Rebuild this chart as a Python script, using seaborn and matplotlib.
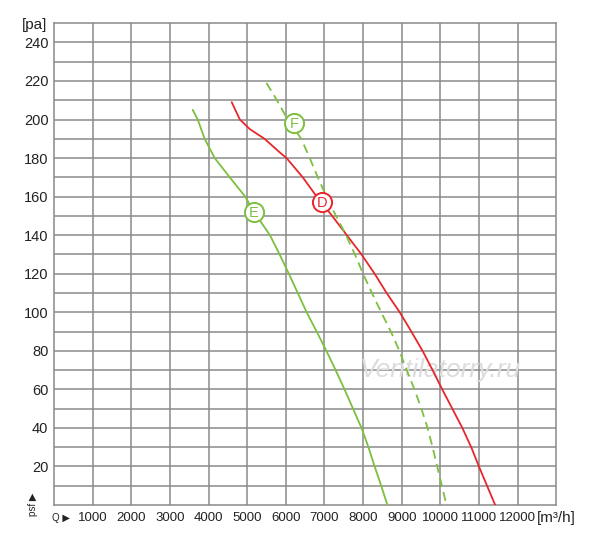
import matplotlib
matplotlib.use("Agg")
import matplotlib.pyplot as plt
import seaborn as sns
import pandas as pd

# ================= DATA =================
e_q = [3590, 3720, 3900, 4160, 4550, 4950, 5180, 5590, 5840, 6080, 6310, 6540, 6800,
       7050, 7290, 7520, 7740, 7960, 8140, 8300, 8470, 8630]
e_p = [205, 200, 190, 180, 170, 160, 152, 140, 130, 120, 110, 100, 90,
       80, 70, 60, 50, 40, 30, 20, 10, 0]

d_q = [4600, 4810, 5070, 5450, 5840, 6020, 6440, 6800, 7200, 7580, 7960, 8300, 8610,
       8950, 9250, 9540, 9800, 10050, 10310, 10570, 10800, 11000, 11210, 11420]
d_p = [209, 200, 195, 190, 183, 180, 170, 160, 150, 140, 130, 120, 110,
       100, 90, 80, 70, 60, 50, 40, 30, 20, 10, 0]

f_q = [5500, 5770, 6050, 6400, 6620, 6830, 7050, 7300, 7560, 7790, 8000, 8230, 8470,
       8720, 8940, 9130, 9330, 9510, 9670, 9800, 9920, 10040, 10160]
f_p = [219, 210, 200, 190, 180, 170, 160, 150, 140, 130, 120, 110, 100,
       90, 80, 70, 60, 50, 40, 30, 20, 10, 0]

x_ticks = list(range(1000, 13000, 1000))
y_ticks = list(range(20, 250, 20))

labels = ["E", "F", "D"]
label_q = [5180, 6210, 6930]
label_p = [152, 198, 157]

green = "#7dbf3f"
red = "#e8262b"
grid_col = "#8a8a8a"

# ================= STYLE =================
sns.set_style("white")
plt.rcParams["font.family"] = ["Liberation Sans", "DejaVu Sans"]

fig = plt.figure(figsize=(6, 5.38), dpi=100)
ax = fig.add_axes([0.09, 0.0613, 0.837, 0.8957])

df_e = pd.DataFrame({"q": e_q, "p": e_p})
df_d = pd.DataFrame({"q": d_q, "p": d_p})
df_f = pd.DataFrame({"q": f_q, "p": f_p})

sns.lineplot(data=df_e, x="q", y="p", ax=ax, color=green, lw=1.3, sort=False, zorder=3)
sns.lineplot(data=df_d, x="q", y="p", ax=ax, color=red, lw=1.3, sort=False, zorder=3)
sns.lineplot(data=df_f, x="q", y="p", ax=ax, color=green, lw=1.3, sort=False,
             linestyle=(0, (5, 3)), zorder=3)

for lab, q, p in zip(labels, label_q, label_p):
    col = red if lab == "D" else green
    ax.scatter([q], [p], s=190, facecolor="white", edgecolor=col, linewidth=1.4, zorder=4)
    ax.text(q, p - 0.5, lab, color=col, fontsize=10.5, ha="center", va="center", zorder=5)

# ================= AXES =================
ax.set_xlim(0, 13000)
ax.set_ylim(0, 250)
ax.set_xticks(x_ticks)
ax.set_xticklabels([str(v) for v in x_ticks], fontsize=9.5, color="#222222")
ax.set_yticks(y_ticks)
ax.set_yticklabels([str(v) for v in y_ticks], fontsize=10.5, color="#222222")
ax.set_yticks(range(10, 250, 10), minor=True)
ax.tick_params(axis="both", which="both", length=0)
ax.tick_params(axis="x", pad=5)
ax.tick_params(axis="y", pad=4)

ax.grid(True, which="major", color=grid_col, lw=1.1)
ax.grid(True, which="minor", axis="y", color=grid_col, lw=1.1)
ax.set_axisbelow(True)
for s in ax.spines.values():
    s.set_color(grid_col)
    s.set_linewidth(1.1)

ax.set_xlabel("")
ax.set_ylabel("")

fig.text(0.036, 0.954, "[pa]", fontsize=11, ha="left", va="center", color="#222222")
fig.text(0.894, 0.037, "[m³/h]", fontsize=11, ha="left", va="center", color="#222222")
fig.text(0.086, 0.037, "Q ▶", fontsize=7, ha="left", va="center", color="#222222")
fig.text(0.055, 0.062, "psf ▶", fontsize=7, rotation=90, ha="center", va="center", color="#222222")

ax.text(10000, 70, "Ventilatorry.ru", fontsize=19, style="italic", color="#dcdcdc",
        ha="center", va="center", zorder=2)

plt.savefig("out.png", dpi=100)
